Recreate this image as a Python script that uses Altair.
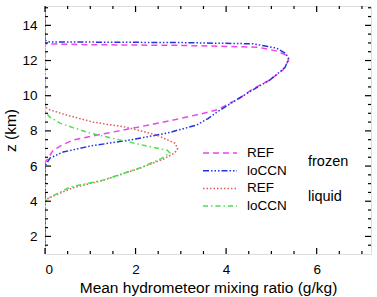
import altair as alt
import numpy as np
import pandas as pd

# Vertical profiles of mean hydrometeor mixing ratio (g/kg) against height z (km)
frozen_ref_z = [1.0, 6.2, 6.45, 6.9, 7.2, 7.48, 7.76, 8.2, 8.6, 8.95, 9.2, 9.86, 10.4,
                10.9, 11.45, 12.0, 12.3, 12.55, 12.76, 12.86, 12.9, 12.95, 15.1]
frozen_ref_x = [0, 0, 0.07, 0.18, 0.38, 0.62, 1.15, 2.03, 2.8, 3.42, 3.8, 4.3, 4.6,
                4.97, 5.25, 5.38, 5.33, 5.1, 4.7, 3.0, 1.0, 0, 0]

frozen_lo_z = [1.0, 6.0, 6.2, 6.45, 6.8, 7.14, 7.48, 7.87, 8.33, 8.7, 9.07, 9.64, 10.3,
               10.9, 11.6, 12.1, 12.4, 12.7, 12.95, 13.02, 13.06, 13.15, 15.1]
frozen_lo_x = [0, 0, 0.05, 0.11, 0.4, 1.0, 1.88, 2.69, 3.35, 3.6, 3.8, 4.15, 4.57,
               4.97, 5.3, 5.38, 5.32, 5.12, 4.6, 3.0, 0.1, 0, 0]

liquid_ref_z = [1.0, 4.0, 4.18, 4.75, 5.2, 5.9, 6.4, 6.74, 7.0, 7.3, 7.76, 8.2, 8.5,
                8.9, 9.2, 9.35, 15.1]
liquid_ref_x = [0, 0, 0.08, 0.6, 1.3, 2.12, 2.62, 2.86, 2.93, 2.87, 2.47, 1.81, 1.06,
                0.48, 0.1, 0, 0]

liquid_lo_z = [1.0, 3.95, 4.18, 4.8, 5.2, 5.9, 6.4, 6.74, 6.9, 7.1, 7.48, 7.87, 8.2,
               8.44, 8.8, 9.07, 15.1]
liquid_lo_x = [0, 0, 0.08, 0.55, 1.28, 2.1, 2.55, 2.76, 2.7, 2.32, 1.66, 1.0, 0.6,
               0.33, 0.1, 0, 0]

series_keys = ["frozen REF", "frozen loCCN", "liquid REF", "liquid loCCN"]
series_labels = ["REF", "loCCN", "REF", "loCCN"]
series_colors = ["#ee44ee", "#2233dd", "#e05a5a", "#50dd50"]
series_dashes = [[6, 4], [6, 2, 1.5, 2, 1.5, 2, 1.5, 2], [1.5, 2], [5, 3, 1.5, 3]]
group_labels = ["frozen", "liquid"]

x_major = [0, 2, 4, 6]
y_major = [2, 4, 6, 8, 10, 12, 14]
X_DOMAIN = [0, 7.2]
Y_DOMAIN = [1, 15.1]

W, H = 326, 248
FONT = "Liberation Sans"

profiles = [(frozen_ref_x, frozen_ref_z), (frozen_lo_x, frozen_lo_z),
            (liquid_ref_x, liquid_ref_z), (liquid_lo_x, liquid_lo_z)]
rows = []
for key, (xs, zs) in zip(series_keys, profiles):
    for i, (xv, zv) in enumerate(zip(xs, zs)):
        rows.append({"series": key, "x": xv, "z": zv, "i": i})
df = pd.DataFrame(rows)

xscale = alt.Scale(domain=X_DOMAIN, nice=False, zero=False)
yscale = alt.Scale(domain=Y_DOMAIN, nice=False, zero=False)

# Base layer carrying the visible axis labels and titles
axes = alt.Chart(pd.DataFrame({"x": [0.0], "z": [1.0]})).mark_point(opacity=0).encode(
    x=alt.X("x:Q", scale=xscale,
            axis=alt.Axis(values=x_major, title="Mean hydrometeor mixing ratio (g/kg)",
                          ticks=False, domain=False, grid=False, labelPadding=8,
                          labelFontSize=13.5, titleFontSize=15.5, titlePadding=5,
                          labelColor="#000000", titleColor="#000000", titleFontWeight="normal",
                          labelFont=FONT, titleFont=FONT, format="d")),
    y=alt.Y("z:Q", scale=yscale,
            axis=alt.Axis(values=y_major, title="z (km)", ticks=False, domain=False,
                          grid=False, labelPadding=8, labelFontSize=13.5, titleFontSize=15.5,
                          titlePadding=3, labelColor="#000000", titleColor="#000000",
                          titleFontWeight="normal", labelFont=FONT, titleFont=FONT,
                          format="d")),
)

layers = [axes]

# Profile lines, one layer per series so each keeps its own dash pattern
for key, color, dash in zip(series_keys, series_colors, series_dashes):
    layers.append(
        alt.Chart(df[df.series == key]).mark_line(
            color=color, strokeDash=dash, strokeWidth=1.5, clip=True
        ).encode(
            x=alt.X("x:Q", scale=xscale),
            y=alt.Y("z:Q", scale=yscale),
            order="i:Q",
        )
    )

# Inward-pointing ticks on all four sides
x_minor = [v for v in np.arange(0, 7.01, 0.5) if v not in x_major]
y_minor = [v for v in np.arange(1.5, 15.01, 0.5) if v not in y_major]
xt = pd.DataFrame({"v": x_major + x_minor, "len": [6] * len(x_major) + [3] * len(x_minor)})
yt = pd.DataFrame({"v": y_major + y_minor, "len": [6] * len(y_major) + [3] * len(y_minor)})

for length in (6, 3):
    xs = xt[xt.len == length]
    ys = yt[yt.len == length]
    layers.append(alt.Chart(xs).mark_rule(color="black", strokeWidth=1.2).encode(
        x=alt.X("v:Q", scale=xscale), y=alt.value(H), y2=alt.value(H - length)))
    layers.append(alt.Chart(xs).mark_rule(color="black", strokeWidth=1.2).encode(
        x=alt.X("v:Q", scale=xscale), y=alt.value(0), y2=alt.value(length)))
    layers.append(alt.Chart(ys).mark_rule(color="black", strokeWidth=1.2).encode(
        y=alt.Y("v:Q", scale=yscale), x=alt.value(0), x2=alt.value(length)))
    layers.append(alt.Chart(ys).mark_rule(color="black", strokeWidth=1.2).encode(
        y=alt.Y("v:Q", scale=yscale), x=alt.value(W), x2=alt.value(W - length)))

# Key: line samples with labels, plus the frozen / liquid group names
one = pd.DataFrame({"a": [0]})
key_top, key_step = 147, 17.7
for k, (label, color, dash) in enumerate(zip(series_labels, series_colors, series_dashes)):
    yk = key_top + k * key_step
    layers.append(alt.Chart(one).mark_rule(color=color, strokeDash=dash, strokeWidth=1.5).encode(
        x=alt.value(158), x2=alt.value(192), y=alt.value(yk)))
    layers.append(alt.Chart(one).mark_text(
        text=label, align="left", baseline="middle", fontSize=13.5, font=FONT, color="#000000"
    ).encode(x=alt.value(202), y=alt.value(yk)))
for g, label in enumerate(group_labels):
    layers.append(alt.Chart(one).mark_text(
        text=label, align="left", baseline="middle", fontSize=14.5, font=FONT, color="#000000"
    ).encode(x=alt.value(263), y=alt.value(key_top + 9 + g * 2 * key_step)))

chart = alt.layer(*layers).properties(
    width=W, height=H,
    autosize="none",
    padding={"left": 45, "top": 6, "right": 6, "bottom": 43},
).configure_view(stroke="black", strokeWidth=1.4).configure(background="white")

chart.save("out.html", embed_options={"renderer": "svg", "actions": False})
